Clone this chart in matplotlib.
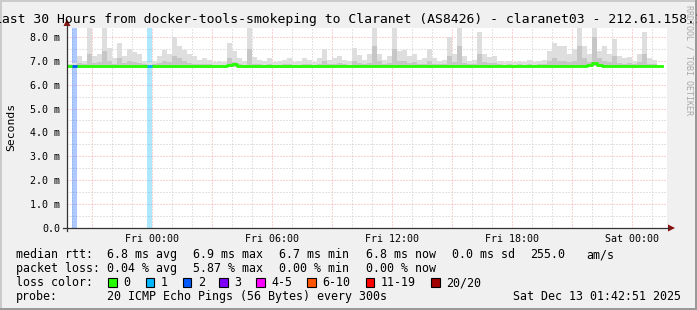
import numpy as np
import matplotlib.pyplot as plt
from matplotlib.patches import Rectangle, Polygon
from matplotlib.lines import Line2D

W, H = 697, 310
MONO = "DejaVu Sans Mono"

title = "Last 30 Hours from docker-tools-smokeping to Claranet (AS8426) - claranet03 - 212.61.158.1"

# x axis in hours relative to Fri 00:00
start_hour = -4.24
span_hours = 30.0
bin_hours = 0.25
tick_hours = [0, 6, 12, 18, 24]
tick_labels = ["Fri 00:00", "Fri 06:00", "Fri 12:00", "Fri 18:00", "Sat 00:00"]

# ping values in ms, one value per 15 minutes
smoke_hi = [
    6.85, 6.90, 7.18, 7.00, 8.40, 7.20, 7.30, 8.40, 7.55, 7.10,
    7.75, 7.20, 7.50, 7.36, 7.30, 7.00, 6.90, 7.00, 7.20, 7.45,
    7.30, 8.00, 7.60, 7.45, 7.30, 7.20, 7.05, 7.10, 7.05, 6.95,
    7.00, 6.95, 7.75, 7.40, 7.10, 7.00, 8.40, 7.15, 7.05, 7.00,
    7.10, 6.95, 7.00, 7.05, 7.10, 6.95, 7.00, 7.10, 7.05, 6.95,
    7.10, 7.50, 7.05, 7.10, 7.20, 7.05, 7.00, 7.55, 7.25, 7.05,
    7.30, 8.40, 7.30, 7.05, 7.20, 8.40, 7.40, 7.45, 7.20, 7.30,
    7.05, 7.10, 7.50, 7.10, 7.00, 7.05, 8.00, 7.30, 8.40, 7.20,
    7.00, 7.05, 8.20, 7.30, 7.15, 7.20, 7.00, 6.95, 7.00, 6.95,
    7.00, 6.95, 7.05, 6.95, 7.00, 7.05, 7.40, 7.75, 7.60, 7.60,
    7.30, 7.50, 8.40, 7.60, 7.30, 8.40, 7.40, 7.60, 7.30, 7.90,
    7.20, 7.10, 7.15, 7.00, 7.30, 8.20, 7.10, 7.05, 7.00, np.nan,
]
smoke_mid = [
    6.82, 6.84, 6.90, 6.85, 7.30, 6.90, 6.95, 7.40, 7.00, 6.88,
    7.10, 6.90, 7.00, 6.95, 6.92, 6.85, 6.82, 6.85, 6.90, 7.00,
    6.95, 7.20, 7.10, 6.98, 6.92, 6.88, 6.85, 6.86, 6.85, 6.83,
    6.84, 6.83, 7.10, 6.95, 6.86, 6.84, 7.50, 6.88, 6.85, 6.84,
    6.86, 6.83, 6.84, 6.85, 6.86, 6.83, 6.84, 6.86, 6.85, 6.83,
    6.86, 7.00, 6.85, 6.86, 6.90, 6.85, 6.84, 7.00, 6.92, 6.85,
    6.92, 7.60, 7.00, 6.86, 6.92, 7.50, 7.00, 7.00, 6.92, 6.95,
    6.86, 6.88, 7.00, 6.88, 6.85, 6.86, 7.20, 6.95, 7.60, 6.92,
    6.85, 6.86, 7.30, 6.95, 6.90, 6.92, 6.85, 6.84, 6.85, 6.84,
    6.85, 6.84, 6.86, 6.84, 6.85, 6.86, 6.98, 7.10, 7.00, 7.00,
    6.95, 7.00, 7.60, 7.10, 6.95, 8.00, 7.10, 7.00, 6.95, 7.20,
    6.92, 6.88, 6.90, 6.86, 6.95, 7.30, 6.88, 6.86, 6.85, np.nan,
]
smoke_lo = [
    6.71, 6.70, 6.71, 6.71, 6.70, 6.71, 6.71, 6.70, 6.71, 6.71,
    6.71, 6.71, 6.70, 6.71, 6.71, 6.71, 6.70, 6.71, 6.71, 6.71,
    6.70, 6.71, 6.71, 6.71, 6.71, 6.70, 6.71, 6.71, 6.71, 6.71,
    6.71, 6.71, 6.72, 6.74, 6.72, 6.71, 6.70, 6.71, 6.71, 6.71,
    6.71, 6.71, 6.71, 6.70, 6.71, 6.71, 6.71, 6.71, 6.71, 6.71,
    6.71, 6.71, 6.71, 6.71, 6.72, 6.72, 6.72, 6.72, 6.72, 6.72,
    6.73, 6.72, 6.73, 6.73, 6.73, 6.72, 6.73, 6.73, 6.72, 6.72,
    6.72, 6.72, 6.71, 6.72, 6.72, 6.72, 6.72, 6.73, 6.72, 6.72,
    6.71, 6.72, 6.72, 6.72, 6.71, 6.72, 6.72, 6.72, 6.72, 6.71,
    6.72, 6.72, 6.72, 6.72, 6.72, 6.72, 6.72, 6.72, 6.72, 6.72,
    6.72, 6.72, 6.72, 6.72, 6.73, 6.76, 6.73, 6.72, 6.72, 6.72,
    6.72, 6.72, 6.72, 6.71, 6.72, 6.72, 6.72, 6.72, 6.72, np.nan,
]
median = [
    6.77, 6.76, 6.77, 6.77, 6.77, 6.77, 6.77, 6.77, 6.77, 6.77,
    6.77, 6.77, 6.77, 6.77, 6.77, 6.77, 6.76, 6.77, 6.77, 6.77,
    6.77, 6.77, 6.77, 6.77, 6.77, 6.77, 6.77, 6.77, 6.77, 6.77,
    6.77, 6.78, 6.82, 6.88, 6.80, 6.77, 6.77, 6.77, 6.77, 6.77,
    6.77, 6.77, 6.77, 6.77, 6.77, 6.77, 6.78, 6.78, 6.78, 6.78,
    6.78, 6.78, 6.78, 6.78, 6.79, 6.79, 6.79, 6.79, 6.79, 6.79,
    6.80, 6.80, 6.80, 6.80, 6.80, 6.80, 6.80, 6.80, 6.79, 6.79,
    6.79, 6.79, 6.78, 6.78, 6.78, 6.78, 6.79, 6.79, 6.79, 6.79,
    6.78, 6.78, 6.78, 6.78, 6.78, 6.78, 6.79, 6.79, 6.79, 6.79,
    6.79, 6.79, 6.79, 6.79, 6.79, 6.79, 6.79, 6.79, 6.79, 6.79,
    6.79, 6.79, 6.79, 6.79, 6.82, 6.92, 6.82, 6.79, 6.79, 6.79,
    6.78, 6.78, 6.78, 6.78, 6.78, 6.78, 6.78, 6.78, 6.78, np.nan,
]
# lost pings (of 20) per bin, only non-zero bins
loss_bins = {1: 2, 16: 1}

loss_names = ["0", "1", "2", "3", "4-5", "6-10", "11-19", "20/20"]
loss_colors = ["#26ff00", "#00b8ff", "#0059ff", "#7e00ff",
               "#ff00ff", "#ff5500", "#ff0000", "#a10000"]

legend_rows = [
    ["median rtt:", "6.8 ms avg", "6.9 ms max", "6.7 ms min", "6.8 ms now",
     "0.0 ms sd", "255.0", "am/s"],
    ["packet loss:", "0.04 % avg", "5.87 % max", "0.00 % min", "0.00 % now"],
]
probe_text = "20 ICMP Echo Pings (56 Bytes) every 300s"
stamp_text = "Sat Dec 13 01:42:51 2025"


def fx(x):
    return x / W


def fy(y):
    return 1 - y / H


fig = plt.figure(figsize=(W / 100, H / 100), dpi=100, facecolor="#f0f0f0")

# frame shading
fig.patches.append(Rectangle((0, 0), fx(2), 1, transform=fig.transFigure, color="#cbcbcb", lw=0))
fig.patches.append(Rectangle((0, fy(2)), 1, 2 / H, transform=fig.transFigure, color="#cbcbcb", lw=0))
fig.patches.append(Rectangle((fx(W - 2), 0), fx(2), 1, transform=fig.transFigure, color="#999999", lw=0))
fig.patches.append(Rectangle((0, 0), 1, 2 / H, transform=fig.transFigure, color="#999999", lw=0))

ax = fig.add_axes([fx(67), fy(228), 600 / W, 200 / H])
ax.set_facecolor("white")
ax.set_xlim(start_hour, start_hour + span_hours)
ax.set_ylim(0, 8.37)
for s in ax.spines.values():
    s.set_visible(False)

n = len(median)
edges = start_hour + bin_hours * np.arange(n + 1)


def ext(v):
    v = np.asarray(v, dtype=float)
    return np.append(v, v[-1])


# loss background bars
for i, lost in loss_bins.items():
    ax.axvspan(edges[i], edges[i + 1], color=loss_colors[lost], alpha=0.32, lw=0, zorder=1)

# smoke
ax.fill_between(edges, ext(smoke_lo), ext(smoke_hi), step="post", color="#dedede", lw=0, zorder=2)
ax.fill_between(edges, ext(smoke_lo), ext(smoke_mid), step="post", color="#c6c6c6", lw=0, zorder=3)

# median line coloured by loss
ax.step(edges, ext(median), where="post", color=loss_colors[0], lw=2.0, zorder=4)
for i, lost in loss_bins.items():
    ax.plot([edges[i], edges[i + 1]], [median[i], median[i]], color=loss_colors[lost], lw=2.0, zorder=5,
            solid_capstyle="butt")

# grid
ax.set_yticks(np.arange(0, 9, 1.0))
ax.set_yticks(np.arange(0.5, 8.5, 1.0), minor=True)
ax.set_yticklabels(["0.0"] + [f"{v:.1f} m" for v in range(1, 9)])
major_x = np.arange(-3, 26, 3)
ax.set_xticks(major_x)
ax.set_xticklabels([tick_labels[tick_hours.index(h)] if h in tick_hours else "" for h in major_x])
ax.set_xticks(np.arange(-4, 26, 1), minor=True)
ax.set_axisbelow(True)
ax.grid(True, which="major", color="#f08080", alpha=0.7, lw=0.72, linestyle=(0, (1, 2)))
ax.grid(True, which="minor", color="#c8c8c8", lw=0.72, linestyle=(0, (1, 2)))
ax.tick_params(which="both", length=0)
ax.tick_params(axis="y", pad=5, labelsize=7.2, labelfontfamily=MONO)
ax.tick_params(axis="x", pad=4, labelsize=7.2, labelfontfamily=MONO)

# axes with arrows
axis_col = "#333333"
arrow_col = "#8b1010"
fig.lines.append(Line2D([fx(67), fx(67)], [fy(231), fy(25)], transform=fig.transFigure, color=axis_col, lw=0.9))
fig.lines.append(Line2D([fx(63), fx(669)], [fy(228), fy(228)], transform=fig.transFigure, color=axis_col, lw=0.9))
fig.patches.append(Polygon([(fx(67), fy(19)), (fx(63.5), fy(26)), (fx(70.5), fy(26))],
                           transform=fig.transFigure, color=arrow_col, lw=0))
fig.patches.append(Polygon([(fx(675), fy(228)), (fx(668), fy(224.5)), (fx(668), fy(231.5))],
                           transform=fig.transFigure, color=arrow_col, lw=0))

# titles (the title is wider than the image, as in the original)
fig.text(fx(-6), fy(23), title, family=MONO, fontsize=9.45, ha="left", va="baseline")
fig.text(fx(11), fy(127), "Seconds", family=MONO, fontsize=8.2, rotation=90, ha="center", va="center")
fig.text(fx(688.5), fy(5), "RRDTOOL / TOBI OETIKER", family=MONO, fontsize=6.0, rotation=270,
         ha="center", va="top", color="#a8a8a8")

# legend
col_x = [16, 107.3, 193.3, 279.3, 365.7, 451.7, 530, 586]
row_y = [258, 272, 286, 300]
for r, row in enumerate(legend_rows):
    for c, txt in enumerate(row):
        fig.text(fx(col_x[c]), fy(row_y[r]), txt, family=MONO, fontsize=8.4, ha="left", va="baseline")

fig.text(fx(16), fy(row_y[2]), "loss color:", family=MONO, fontsize=8.4, ha="left", va="baseline")
box_x = [108.3, 145.7, 182.7, 219.3, 256, 307.3, 365.7, 431]
for bx, name, col in zip(box_x, loss_names, loss_colors):
    fig.patches.append(Rectangle((fx(bx), fy(286.5)), 8.5 / W, 9 / H, transform=fig.transFigure,
                                 facecolor=col, edgecolor="black", lw=0.8))
    fig.text(fx(bx + 15), fy(row_y[2]), name, family=MONO, fontsize=8.4, ha="left", va="baseline")

fig.text(fx(16), fy(row_y[3]), "probe:", family=MONO, fontsize=8.4, ha="left", va="baseline")
fig.text(fx(107.3), fy(row_y[3]), probe_text, family=MONO, fontsize=8.4, ha="left", va="baseline")
fig.text(fx(513.3), fy(row_y[3]), stamp_text, family=MONO, fontsize=8.4, ha="left", va="baseline")

fig.savefig("out.png", dpi=100, facecolor=fig.get_facecolor())
